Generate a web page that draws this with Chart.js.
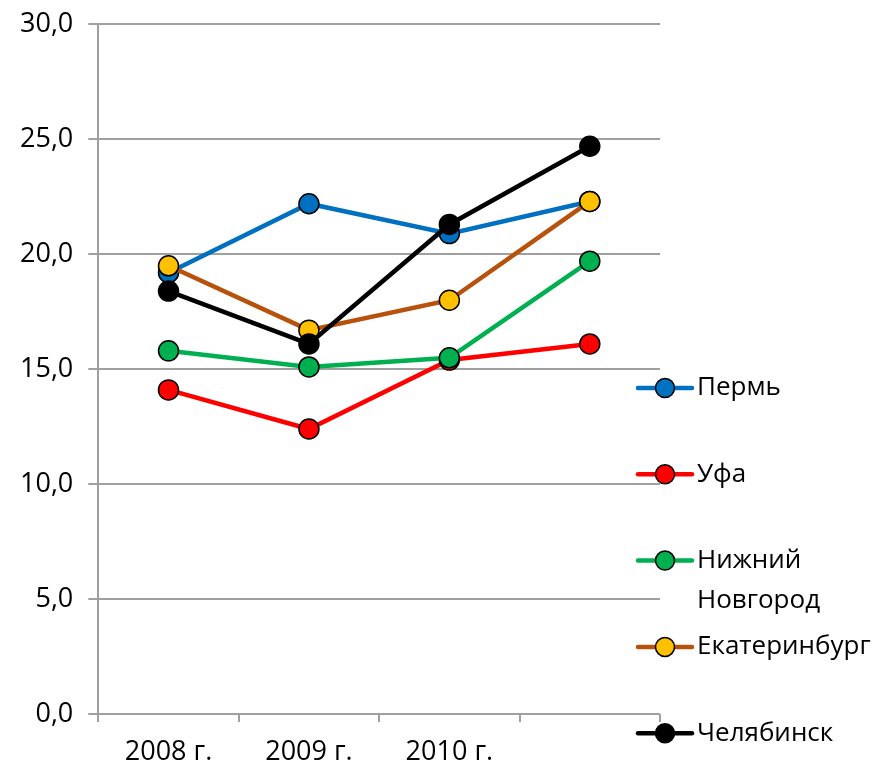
<!DOCTYPE html>
<html lang="ru">
<head>
<meta charset="utf-8">
<script src="https://cdn.jsdelivr.net/npm/chart.js@4"></script>
<style>
    html, body { margin: 0; padding: 0; background: #fff; }
    #wrap { width: 883px; height: 767px; }
</style>
</head>
<body>
<div id="wrap"><canvas id="lineChart" width="883" height="767"></canvas></div>
<script>
// данные графика
const years = ['2008 г.', '2009 г.', '2010 г.', ''];
const yTicks = [0, 5, 10, 15, 20, 25, 30];

const perm = [19.2, 22.2, 20.9, 22.3];
const ufa = [14.1, 12.4, 15.4, 16.1];
const nizhny = [15.8, 15.1, 15.5, 19.7];
const ekb = [19.5, 16.7, 18.0, 22.3];
const chel = [18.4, 16.1, 21.3, 24.7];

const seriesNames = ['Пермь', 'Уфа', ['Нижний', 'Новгород'], 'Екатеринбург', 'Челябинск'];
const lineColors = ['#0070C0', '#FF0000', '#00B050', '#B8510B', '#000000'];
const pointColors = ['#0070C0', '#FF0000', '#00B050', '#FFC000', '#000000'];
const seriesData = [perm, ufa, nizhny, ekb, chel];

const FONT = '"Open Sans", "DejaVu Sans", sans-serif';
const FONT_SIZE = 27;

// легенда справа, как в Excel
const sideLegend = {
    id: 'sideLegend',
    afterDraw(chart) {
        const ctx = chart.ctx;
        const left = chart.chartArea.right - 22;
        const top = 388;
        const step = 86.3;
        ctx.save();
        ctx.font = (FONT_SIZE - 1) + 'px ' + FONT;
        ctx.textBaseline = 'middle';
        ctx.fillStyle = '#000';
        seriesNames.forEach((name, i) => {
            const y = top + i * step;
            ctx.strokeStyle = lineColors[i];
            ctx.lineWidth = 4.5;
            ctx.lineCap = 'round';
            ctx.beginPath();
            ctx.moveTo(left, y);
            ctx.lineTo(left + 54, y);
            ctx.stroke();
            ctx.beginPath();
            ctx.arc(left + 27, y, 9.5, 0, Math.PI * 2);
            ctx.fillStyle = pointColors[i];
            ctx.fill();
            ctx.lineWidth = 1.5;
            ctx.strokeStyle = '#000';
            ctx.stroke();
            ctx.fillStyle = '#000';
            const lines = Array.isArray(name) ? name : [name];
            lines.forEach((t, j) => ctx.fillText(t, left + 59, y + j * 40));
        });
        ctx.restore();
    }
};

const ctx = document.getElementById('lineChart').getContext('2d');
const chart = new Chart(ctx, {
    type: 'line',
    data: {
        labels: years,
        datasets: seriesData.map((d, i) => ({
            label: Array.isArray(seriesNames[i]) ? seriesNames[i].join(' ') : seriesNames[i],
            data: d,
            borderColor: lineColors[i],
            backgroundColor: pointColors[i],
            borderWidth: 4.5,
            pointRadius: 10,
            pointBorderWidth: 1.5,
            pointBorderColor: '#000',
            pointBackgroundColor: pointColors[i],
            tension: 0,
            order: seriesData.length - i
        }))
    },
    options: {
        responsive: false,
        animation: false,
        layout: {
            padding: { top: 0, right: 223, left: 5, bottom: -16 }
        },
        plugins: {
            legend: { display: false },
            tooltip: { enabled: false }
        },
        scales: {
            x: {
                offset: true,
                grid: {
                    offset: true,
                    drawOnChartArea: false,
                    drawTicks: true,
                    tickLength: 8,
                    color: '#A0A0A0',
                    lineWidth: 2
                },
                border: { display: false },
                ticks: {
                    color: '#000',
                    font: { family: FONT, size: FONT_SIZE, lineHeight: 1 },
                    maxRotation: 0,
                    padding: 17
                }
            },
            y: {
                min: 0,
                max: 30,
                afterBuildTicks(axis) {
                    axis.ticks = yTicks.map(v => ({ value: v }));
                },
                grid: {
                    color: '#A0A0A0',
                    lineWidth: 2,
                    tickLength: 10
                },
                border: { color: '#A0A0A0', width: 2 },
                ticks: {
                    color: '#000',
                    font: { family: FONT, size: FONT_SIZE, lineHeight: 0.7 },
                    padding: 15,
                    callback: v => v.toFixed(1).replace('.', ',')
                }
            }
        }
    },
    plugins: [sideLegend]
});
</script>
</body>
</html>
